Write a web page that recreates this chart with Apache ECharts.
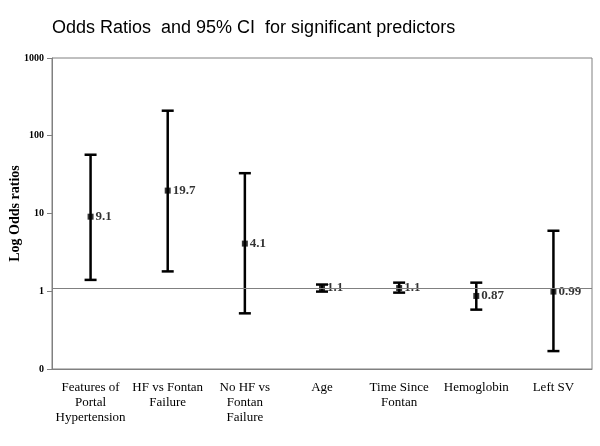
<!DOCTYPE html>
<html><head><meta charset="utf-8">
<script src="https://cdn.jsdelivr.net/npm/echarts@6/dist/echarts.min.js"></script>
<style>html,body{margin:0;padding:0;background:#fff}#c{width:600px;height:446px}</style>
</head><body><div id="c"></div>
<script>
var categories = ['Features of\nPortal\nHypertension','HF vs Fontan\nFailure','No HF vs\nFontan\nFailure','Age','Time Since\nFontan','Hemoglobin','Left SV'];
var estimates = [9.1, 19.7, 4.1, 1.1, 1.1, 0.87, 0.99];
var lowerCI = [1.4, 1.8, 0.52, 0.99, 0.96, 0.58, 0.17];
var upperCI = [57, 210, 33, 1.22, 1.29, 1.29, 6.0];
var pointLabels = ['9.1','19.7','4.1','1.1','1.1','0.87','0.99'];
var yTickValues = [0.1, 1, 10, 100, 1000];
var yTickLabels = ['0','1','10','100','1000'];
var refLine = 1.08;

var chart = echarts.init(document.getElementById('c'));
var serif = '"Liberation Serif", "DejaVu Serif", serif';
chart.setOption({
  animation: false,
  title: {
    text: 'Odds Ratios  and 95% CI  for significant predictors',
    left: 47, top: 14,
    textStyle: {fontFamily: '"Liberation Sans", Arial, sans-serif', fontSize: 18, fontWeight: 'normal', color: '#000'}
  },
  grid: {left: 52, right: 8, top: 58, bottom: 77, show: true, borderColor: '#808080', borderWidth: 1,
         containLabel: false, outerBoundsMode: 'none'},
  xAxis: {
    type: 'category', data: categories, boundaryGap: true,
    axisLine: {lineStyle: {color: '#808080'}},
    axisTick: {show: false},
    axisLabel: {interval: 0, fontFamily: serif, fontSize: 13, color: '#000', lineHeight: 15, margin: 11}
  },
  yAxis: {
    type: 'log', logBase: 10, min: 0.1, max: 1000,
    name: 'Log Odds ratios', nameLocation: 'middle', nameGap: 30, nameRotate: 90, nameMoveOverlap: false,
    nameTextStyle: {fontFamily: serif, fontSize: 14, fontWeight: 'bold', color: '#000'},
    axisLine: {show: true, lineStyle: {color: '#808080'}},
    axisTick: {show: true, length: 5, lineStyle: {color: '#808080'}},
    splitLine: {show: false},
    axisLabel: {
      fontFamily: serif, fontSize: 10, fontWeight: 'bold', color: '#000', margin: 8,
      formatter: function (v) {
        for (var i = 0; i < yTickValues.length; i++) {
          if (Math.abs(Math.log10(v) - Math.log10(yTickValues[i])) < 1e-6) return yTickLabels[i];
        }
        return '';
      }
    }
  },
  series: [
    {
      type: 'custom',
      data: categories.map(function (c, i) { return [i, lowerCI[i], upperCI[i]]; }),
      renderItem: function (params, api) {
        var lo = api.coord([api.value(0), api.value(1)]);
        var hi = api.coord([api.value(0), api.value(2)]);
        var hw = 6;
        var st = {stroke: '#000', lineWidth: 2.5};
        return {type: 'group', children: [
          {type: 'line', shape: {x1: lo[0], y1: lo[1], x2: hi[0], y2: hi[1]}, style: st},
          {type: 'line', shape: {x1: lo[0] - hw, y1: lo[1], x2: lo[0] + hw, y2: lo[1]}, style: st},
          {type: 'line', shape: {x1: hi[0] - hw, y1: hi[1], x2: hi[0] + hw, y2: hi[1]}, style: st}
        ]};
      },
      z: 2
    },
    {
      type: 'scatter',
      data: estimates.map(function (v, i) { return [i, v]; }),
      symbol: 'rect', symbolSize: 6,
      itemStyle: {color: '#000'},
      label: {
        show: true, position: 'right', distance: 2,
        fontFamily: serif, fontSize: 13, fontWeight: 'bold', color: '#000',
        formatter: function (p) { return pointLabels[p.dataIndex]; }
      },
      markLine: {
        silent: true, symbol: 'none', label: {show: false},
        lineStyle: {color: '#808080', width: 1, type: 'solid'},
        data: [{yAxis: refLine}]
      },
      z: 3
    }
  ]
});
</script>
</body></html>
